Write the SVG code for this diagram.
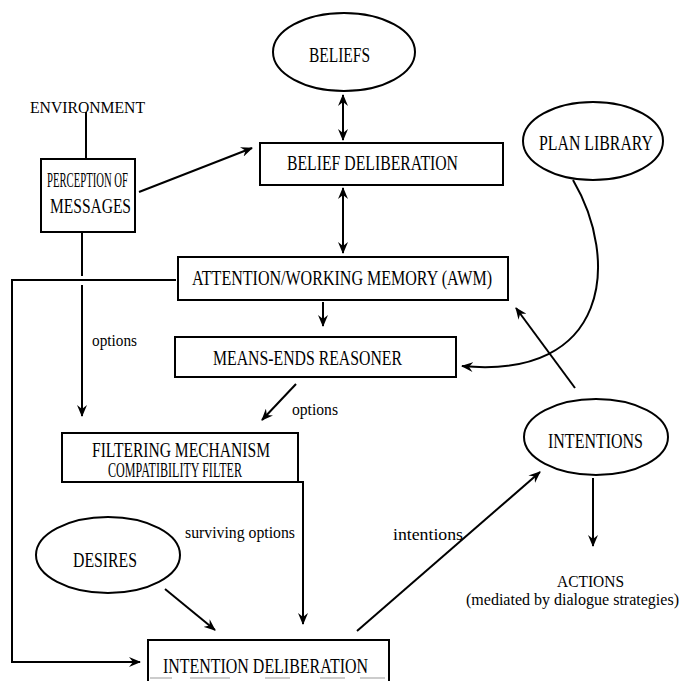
<svg xmlns="http://www.w3.org/2000/svg" width="691" height="681" viewBox="0 0 691 681">
<defs>
<marker id="ah" viewBox="0 0 12 10" refX="11" refY="5" markerWidth="12" markerHeight="10" markerUnits="userSpaceOnUse" orient="auto-start-reverse">
<path d="M0,0 L12,5 L0,10 L4,5 z" fill="#000"/>
</marker>
<style>
.box{fill:#fff;stroke:#000;stroke-width:2}
.ell{fill:#fff;stroke:#000;stroke-width:2}
.t{font-family:"Liberation Serif","Times New Roman",serif;fill:#000;font-size:20px}
.m{font-family:"Liberation Serif","Times New Roman",serif;fill:#000;font-size:17px}
.s{font-family:"Liberation Serif","Times New Roman",serif;fill:#000;font-size:17px}
.c{fill:none;stroke:#000;stroke-width:2}
.a{marker-end:url(#ah)}
.d{marker-start:url(#ah);marker-end:url(#ah)}
</style>
</defs>
<rect width="691" height="681" fill="#fff"/>

<g id="connectors">
<line class="c" x1="86" y1="112" x2="86" y2="159"/>
<line class="c a" x1="139" y1="192" x2="252" y2="148"/>
<line class="c d" x1="343" y1="95" x2="343" y2="140"/>
<line class="c d" x1="343" y1="188" x2="343" y2="253"/>
<line class="c" x1="82" y1="232" x2="82" y2="276"/>
<line class="c a" x1="82" y1="285" x2="82" y2="416"/>
<polyline class="c a" points="176,280 12,280 12,662 140,662"/>
<line class="c a" x1="323" y1="302" x2="323" y2="326"/>
<line class="c a" x1="296" y1="384" x2="262" y2="420"/>
<polyline class="c a" points="299,482 303,482 303,624"/>
<line class="c a" x1="165" y1="589" x2="215" y2="630"/>
<line class="c a" x1="357" y1="631" x2="540" y2="472"/>
<line class="c a" x1="593" y1="478" x2="593" y2="546"/>
<line class="c a" x1="575" y1="388" x2="516" y2="308"/>
<path class="c a" d="M573,180 C620,260 610,380 462,366"/>
<g stroke="#bbb" stroke-width="1.5">
<line x1="150" y1="678" x2="172" y2="678"/>
<line x1="190" y1="678" x2="230" y2="678"/>
<line x1="265" y1="678" x2="290" y2="678"/>
<line x1="320" y1="678" x2="345" y2="678"/>
<line x1="360" y1="678" x2="385" y2="678"/>
</g>
</g>

<g id="beliefs">
<ellipse class="ell" cx="344" cy="52" rx="71" ry="39"/>
<text class="t" x="309" y="62" textLength="61" lengthAdjust="spacingAndGlyphs">BELIEFS</text>
</g>
<g id="environment">
<text class="m" x="30" y="113" textLength="115" lengthAdjust="spacingAndGlyphs">ENVIRONMENT</text>
</g>
<g id="perception">
<rect class="box" x="41" y="159" width="94" height="73"/>
<text class="t" x="47" y="187" font-size="11" textLength="81" lengthAdjust="spacingAndGlyphs">PERCEPTION OF</text>
<text class="t" x="50" y="213" textLength="81" lengthAdjust="spacingAndGlyphs">MESSAGES</text>
</g>
<g id="belief-deliberation">
<rect class="box" x="260" y="143" width="243" height="42"/>
<text class="t" x="287" y="170" textLength="171" lengthAdjust="spacingAndGlyphs">BELIEF DELIBERATION</text>
</g>
<g id="plan-library">
<ellipse class="ell" cx="593" cy="141" rx="70" ry="39"/>
<text class="t" x="539" y="150" textLength="114" lengthAdjust="spacingAndGlyphs">PLAN LIBRARY</text>
</g>
<g id="awm">
<rect class="box" x="178" y="257" width="330" height="43"/>
<text class="t" x="192" y="285" textLength="300" lengthAdjust="spacingAndGlyphs">ATTENTION/WORKING MEMORY (AWM)</text>
</g>
<g id="means-ends">
<rect class="box" x="175" y="337" width="281" height="40"/>
<text class="t" x="213" y="365" textLength="189" lengthAdjust="spacingAndGlyphs">MEANS-ENDS REASONER</text>
</g>
<g id="labels">
<text class="s" x="92" y="346" textLength="45" lengthAdjust="spacingAndGlyphs">options</text>
<text class="s" x="292" y="415" textLength="46" lengthAdjust="spacingAndGlyphs">options</text>
<text class="s" x="185" y="538" textLength="110" lengthAdjust="spacingAndGlyphs">surviving options</text>
<text class="s" x="393" y="540" textLength="70" lengthAdjust="spacingAndGlyphs">intentions</text>
</g>
<g id="filtering">
<rect class="box" x="62" y="433" width="236" height="49"/>
<text class="t" x="92" y="457" font-size="18" textLength="178" lengthAdjust="spacingAndGlyphs">FILTERING MECHANISM</text>
<text class="t" x="108" y="477" font-size="7" textLength="134" lengthAdjust="spacingAndGlyphs">COMPATIBILITY FILTER</text>
</g>
<g id="intentions">
<ellipse class="ell" cx="596" cy="437" rx="72" ry="38"/>
<text class="t" x="548" y="448" textLength="95" lengthAdjust="spacingAndGlyphs">INTENTIONS</text>
</g>
<g id="desires">
<ellipse class="ell" cx="108" cy="555" rx="72" ry="38"/>
<text class="t" x="73" y="567" textLength="64" lengthAdjust="spacingAndGlyphs">DESIRES</text>
</g>
<g id="actions">
<text class="m" x="557" y="587" font-size="16" textLength="67" lengthAdjust="spacingAndGlyphs">ACTIONS</text>
<text class="s" x="466" y="605" font-size="15" textLength="213" lengthAdjust="spacingAndGlyphs">(mediated by dialogue strategies)</text>
</g>
<g id="intention-deliberation">
<path class="c" d="M148,690 L148,640 L389,640 L389,690"/>
<text class="t" x="163" y="673" textLength="205" lengthAdjust="spacingAndGlyphs">INTENTION DELIBERATION</text>
</g>
</svg>
